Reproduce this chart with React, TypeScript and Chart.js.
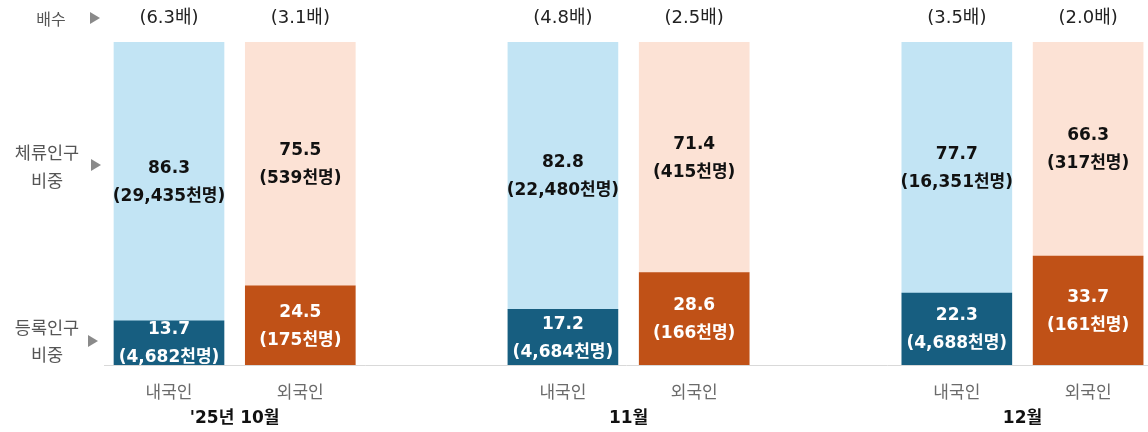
import React, { useEffect, useRef } from 'react';
import { Chart, registerables } from 'chart.js';

Chart.register(...registerables);

const categories = ['내국인', '외국인', '내국인', '외국인', '내국인', '외국인'];
const xPositions = [0, 1, 3, 4, 6, 7];
const months = ["'25년 10월", '11월', '12월'];
const monthCenters = [0.5, 3.5, 6.5];
const registeredShare = [13.7, 24.5, 17.2, 28.6, 22.3, 33.7];
const stayShare = [86.3, 75.5, 82.8, 71.4, 77.7, 66.3];
const registeredCount = ['4,682', '175', '4,684', '166', '4,688', '161'];
const stayCount = ['29,435', '539', '22,480', '415', '16,351', '317'];
const multiples = ['6.3', '3.1', '4.8', '2.5', '3.5', '2.0'];

const darkColors = ['#175E80', '#C05117', '#175E80', '#C05117', '#175E80', '#C05117'];
const lightColors = ['#C2E4F4', '#FCE2D5', '#C2E4F4', '#FCE2D5', '#C2E4F4', '#FCE2D5'];

const VALUE_FONT = 'bold 17px "DejaVu Sans", "Noto Sans CJK KR", sans-serif';

const labelPlugin = {
  id: 'labelPlugin',
  afterDatasetsDraw(chart: any) {
    const ctx = chart.ctx;
    ctx.save();
    ctx.textAlign = 'center';
    ctx.textBaseline = 'middle';
    ctx.font = VALUE_FONT;
    chart.data.datasets.forEach((ds: any, di: number) => {
      const meta = chart.getDatasetMeta(di);
      meta.data.forEach((el: any, i: number) => {
        const cy = (el.y + el.base) / 2 + 1;
        const val = di === 0 ? registeredShare[i] : stayShare[i];
        const cnt = di === 0 ? registeredCount[i] : stayCount[i];
        ctx.fillStyle = di === 0 ? '#ffffff' : '#111111';
        ctx.fillText(val.toFixed(1), el.x, cy - 14);
        ctx.fillText('(' + cnt + '천명)', el.x, cy + 14);
      });
    });
    const xs = chart.scales.x;
    ctx.font = '18px "DejaVu Sans", "Noto Sans CJK KR", sans-serif';
    ctx.fillStyle = '#222222';
    xPositions.forEach((p, i) => {
      ctx.fillText('(' + multiples[i] + '배)', xs.getPixelForValue(p), 18);
    });
    ctx.font = 'bold 17px "DejaVu Sans", "Noto Sans CJK KR", sans-serif';
    ctx.fillStyle = '#111111';
    monthCenters.forEach((p, i) => {
      ctx.fillText(months[i], xs.getPixelForValue(p), 419);
    });
    ctx.fillStyle = '#555555';
    ctx.font = '16px "Noto Sans CJK KR", sans-serif';
    ctx.fillText('배수', 51, 19);
    ctx.font = '17.5px "Noto Sans CJK KR", sans-serif';
    ctx.fillText('체류인구', 47, 152);
    ctx.fillText('비중', 47, 180);
    ctx.fillText('등록인구', 47, 327);
    ctx.fillText('비중', 47, 354);
    const tri = (x: number, y: number) => {
      ctx.beginPath();
      ctx.moveTo(x, y - 6);
      ctx.lineTo(x + 10, y);
      ctx.lineTo(x, y + 6);
      ctx.closePath();
      ctx.fillStyle = '#8a8a8a';
      ctx.fill();
    };
    tri(90, 18);
    tri(91, 165);
    tri(88, 341);
    ctx.restore();
  },
};

export default function App() {
  const ref = useRef<HTMLCanvasElement | null>(null);
  useEffect(() => {
    if (!ref.current) return;
    const chart = new Chart(ref.current, {
      type: 'bar',
      data: {
        datasets: [
          {
            label: '등록인구',
            data: xPositions.map((x, i) => ({ x, y: registeredShare[i] })),
            backgroundColor: darkColors,
            barThickness: 110,
          },
          {
            label: '체류인구',
            data: xPositions.map((x, i) => ({ x, y: stayShare[i] })),
            backgroundColor: lightColors,
            barThickness: 110,
          },
        ],
      },
      options: {
        animation: false,
        responsive: false,
        layout: { padding: { left: 104, top: 42, right: 0, bottom: 0 } },
        plugins: { legend: { display: false }, tooltip: { enabled: false } },
        scales: {
          x: {
            type: 'linear',
            stacked: true,
            offset: false,
            min: -0.495,
            max: 7.456,
            grid: { display: false, drawTicks: false, offset: false },
            border: { display: true, color: '#d9d9d9', width: 1 },
            afterBuildTicks: (scale: any) => {
              scale.ticks = xPositions.map((v) => ({ value: v }));
            },
            afterFit: (scale: any) => {
              scale.height = 67;
            },
            ticks: {
              autoSkip: false,
              maxRotation: 0,
              padding: 16,
              color: '#6b6b6b',
              font: { family: '"Noto Sans CJK KR", sans-serif', size: 17 },
              callback: (_v: any, i: number) => categories[i],
            },
          },
          y: {
            stacked: true,
            min: 0,
            max: 100,
            display: false,
          },
        },
      },
      plugins: [labelPlugin],
    } as any);
    return () => chart.destroy();
  }, []);
  return (
    <div style={{ position: 'absolute', left: 0, top: 0, width: 1148, height: 432, background: '#fff' }}>
      <canvas ref={ref} width={1148} height={432} style={{ display: 'block' }} />
    </div>
  );
}
